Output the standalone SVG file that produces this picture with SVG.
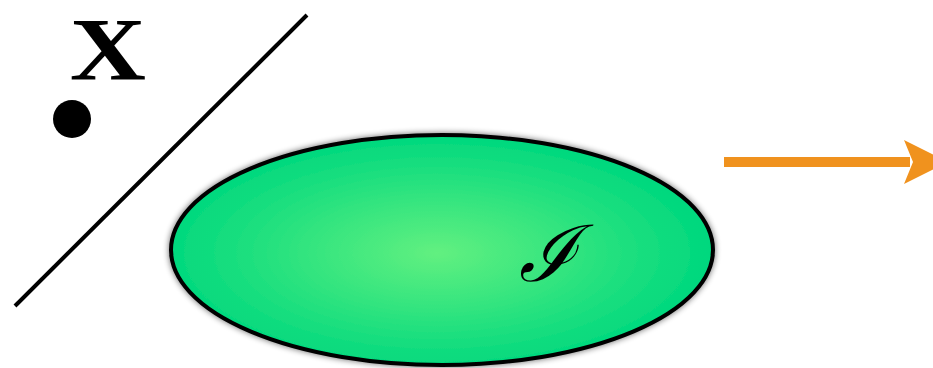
<svg xmlns="http://www.w3.org/2000/svg" width="933" height="368" viewBox="0 0 933 368">
<style>
.ln{stroke:#000;stroke-width:4;fill:none;stroke-linecap:butt}
.lbl{font-family:"Liberation Serif","DejaVu Serif",serif;fill:#000}
</style>
<defs>
<radialGradient id="g" cx="437" cy="253" r="271" gradientUnits="userSpaceOnUse" gradientTransform="translate(437 253) scale(1 0.43) translate(-437 -253)">
<stop offset="0" stop-color="#62f080"/>
<stop offset="1" stop-color="#00d87e"/>
</radialGradient>
<filter id="sh" x="-10%" y="-10%" width="120%" height="120%">
<feGaussianBlur in="SourceAlpha" stdDeviation="3"/>
<feComponentTransfer><feFuncA type="linear" slope="0.6"/></feComponentTransfer>
<feMerge><feMergeNode/><feMergeNode in="SourceGraphic"/></feMerge>
</filter>
</defs>
<rect width="933" height="368" fill="#fff"/>
<g id="x-point">
<circle cx="72" cy="119" r="19" fill="#000"/>
<text class="lbl" x="90" y="79.5" font-size="88" font-weight="bold" text-anchor="middle" transform="scale(1.2 1)">X</text>
</g>
<g id="hyperplane">
<line class="ln" x1="15" y1="306" x2="307" y2="15"/>
</g>
<g id="set-I">
<ellipse cx="442" cy="250" rx="271" ry="115" fill="url(#g)" stroke="#000" stroke-width="4" filter="url(#sh)"/>
<text x="548" y="281" font-family="'DejaVu Serif',serif" font-size="78" font-style="italic" text-anchor="middle" fill="#000">ℐ</text>
</g>
<g id="connectors">
<line x1="724" y1="162" x2="910" y2="162" stroke="#f0921e" stroke-width="10"/>
<polygon points="904,140 948,162 904,184 913,162" fill="#f0921e"/>
</g>
</svg>
